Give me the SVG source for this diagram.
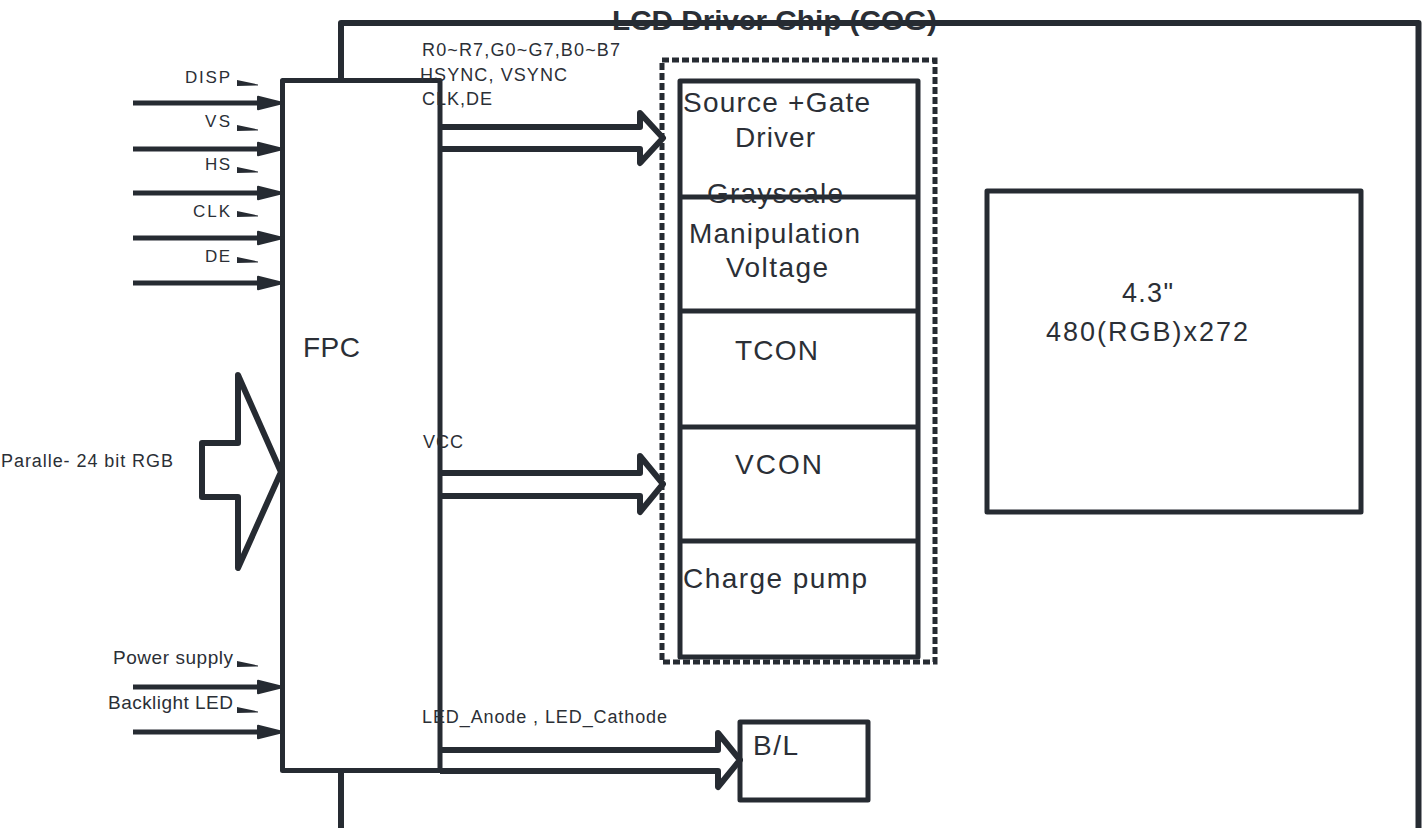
<svg xmlns="http://www.w3.org/2000/svg" width="1428" height="828" viewBox="0 0 1428 828">
  <style>
    .ln{fill:none;stroke:#262b32;stroke-linejoin:round;stroke-linecap:butt}
    .box{fill:none;stroke:#262b32;stroke-width:5;stroke-linejoin:round}
    .t{font-family:"Liberation Sans",Arial,sans-serif;fill:#2b2f36}
    .wedge{fill:#262b32}
  </style>
  <defs>
    <marker id="ah" markerUnits="userSpaceOnUse" markerWidth="30" markerHeight="16" viewBox="0 0 30 16" refX="5" refY="8" orient="auto">
      <path d="M1,1.8 L26,8 L1,14.2 Z" fill="#262b32" stroke="#262b32" stroke-width="2" stroke-linejoin="round"/>
    </marker>
    <path id="wedge" d="M0,-5 L21,-0.5 L21,0.5 L0,1 Z"/>
  </defs>
  <rect width="1428" height="828" fill="#ffffff"/>

  <g id="chip">
    <text class="t" x="612" y="30" font-size="28" font-weight="bold" textLength="325" lengthAdjust="spacingAndGlyphs">LCD Driver Chip (COG)</text>
    <path class="ln" stroke-width="6" d="M341,830 L341,23 L1418.5,23 L1418.5,830"/>
  </g>

  <g id="inputs">
    <text class="t" x="185" y="83" font-size="17" textLength="45" lengthAdjust="spacing">DISP</text>
    <text class="t" x="205" y="127" font-size="17" textLength="25" lengthAdjust="spacing">VS</text>
    <text class="t" x="205" y="170" font-size="17" textLength="25" lengthAdjust="spacing">HS</text>
    <text class="t" x="193" y="217" font-size="17" textLength="37" lengthAdjust="spacing">CLK</text>
    <text class="t" x="205" y="262" font-size="17" textLength="25" lengthAdjust="spacing">DE</text>
    <text class="t" x="113" y="664" font-size="19" textLength="120" lengthAdjust="spacing">Power supply</text>
    <text class="t" x="108" y="709" font-size="19" textLength="125" lengthAdjust="spacing">Backlight LED</text>
    <text class="t" x="1" y="467" font-size="18" textLength="172" lengthAdjust="spacing">Paralle- 24 bit RGB</text>
    <use href="#wedge" class="wedge" x="237" y="85"/>
    <use href="#wedge" class="wedge" x="237" y="130"/>
    <use href="#wedge" class="wedge" x="237" y="172"/>
    <use href="#wedge" class="wedge" x="237" y="216"/>
    <use href="#wedge" class="wedge" x="237" y="262"/>
    <use href="#wedge" class="wedge" x="237" y="666"/>
    <use href="#wedge" class="wedge" x="237" y="712"/>
  </g>

  <g id="fpc">
    <rect x="282.5" y="80.5" width="157.5" height="690" fill="#ffffff" stroke="#262b32" stroke-width="5" stroke-linejoin="round"/>
    <text class="t" x="303" y="357" font-size="28" textLength="57" lengthAdjust="spacing">FPC</text>
  </g>

  <g id="connectors">
    <line class="ln" stroke-width="5" x1="133" y1="103" x2="262" y2="103" marker-end="url(#ah)"/>
    <line class="ln" stroke-width="5" x1="133" y1="149" x2="262" y2="149" marker-end="url(#ah)"/>
    <line class="ln" stroke-width="5" x1="133" y1="193" x2="262" y2="193" marker-end="url(#ah)"/>
    <line class="ln" stroke-width="5" x1="133" y1="238" x2="262" y2="238" marker-end="url(#ah)"/>
    <line class="ln" stroke-width="5" x1="133" y1="283" x2="262" y2="283" marker-end="url(#ah)"/>
    <line class="ln" stroke-width="5" x1="133" y1="687" x2="262" y2="687" marker-end="url(#ah)"/>
    <line class="ln" stroke-width="5" x1="133" y1="732" x2="262" y2="732" marker-end="url(#ah)"/>
    <path class="ln" stroke-width="6" d="M202,443 L238,443 L238,375 L281,472 L238,568 L238,497 L202,497 Z"/>
    <path class="ln" stroke-width="6" d="M440,127 H640 V113 L663,138 L640,163 V149 H440"/>
    <path class="ln" stroke-width="6" d="M440,473 H640 V456 L663,484 L640,512 V496 H440"/>
    <path class="ln" stroke-width="6" d="M440,750 H718 V733 L740,760 L718,787 V771 H440"/>
  </g>

  <g id="labels">
    <text class="t" x="422" y="56" font-size="18" textLength="198" lengthAdjust="spacing">R0~R7,G0~G7,B0~B7</text>
    <text class="t" x="420" y="81" font-size="18" textLength="147" lengthAdjust="spacing">HSYNC, VSYNC</text>
    <text class="t" x="422" y="105" font-size="18" textLength="70" lengthAdjust="spacing">CLK,DE</text>
    <text class="t" x="423" y="448" font-size="18" textLength="40" lengthAdjust="spacing">VCC</text>
    <text class="t" x="422" y="723" font-size="18" textLength="245" lengthAdjust="spacing">LED_Anode , LED_Cathode</text>
  </g>

  <g id="driver-group">
    <rect x="662" y="60" width="273" height="602" fill="none" stroke="#262b32" stroke-width="5" stroke-dasharray="7 3"/>
  </g>

  <g id="driver-stack">
    <rect class="box" x="680" y="81" width="238" height="576"/>
    <line class="ln" stroke-width="5" x1="680" y1="197" x2="918" y2="197"/>
    <line class="ln" stroke-width="5" x1="680" y1="311" x2="918" y2="311"/>
    <line class="ln" stroke-width="5" x1="680" y1="427" x2="918" y2="427"/>
    <line class="ln" stroke-width="5" x1="680" y1="541" x2="918" y2="541"/>
  </g>
  <g id="source-gate-driver">
    <text class="t" x="683" y="112" font-size="28" textLength="187" lengthAdjust="spacing">Source +Gate</text>
    <text class="t" x="735" y="147" font-size="28" textLength="80" lengthAdjust="spacing">Driver</text>
  </g>
  <g id="grayscale">
    <text class="t" x="707" y="203" font-size="28" textLength="136" lengthAdjust="spacing">Grayscale</text>
    <text class="t" x="689" y="243" font-size="28" textLength="171" lengthAdjust="spacing">Manipulation</text>
    <text class="t" x="726" y="277" font-size="28" textLength="102" lengthAdjust="spacing">Voltage</text>
  </g>
  <g id="tcon">
    <text class="t" x="735" y="360" font-size="28" textLength="83" lengthAdjust="spacing">TCON</text>
  </g>
  <g id="vcon">
    <text class="t" x="735" y="474" font-size="28" textLength="87" lengthAdjust="spacing">VCON</text>
  </g>
  <g id="charge-pump">
    <text class="t" x="683" y="588" font-size="28" textLength="184" lengthAdjust="spacing">Charge pump</text>
  </g>

  <g id="panel">
    <rect class="box" x="987" y="191" width="374" height="321"/>
    <text class="t" x="1122" y="302" font-size="27" textLength="51" lengthAdjust="spacing">4.3"</text>
    <text class="t" x="1046" y="341" font-size="27" textLength="202" lengthAdjust="spacing">480(RGB)x272</text>
  </g>

  <g id="backlight">
    <rect class="box" x="740" y="722" width="128" height="78"/>
    <text class="t" x="753" y="755" font-size="28" textLength="45" lengthAdjust="spacing">B/L</text>
  </g>
</svg>
